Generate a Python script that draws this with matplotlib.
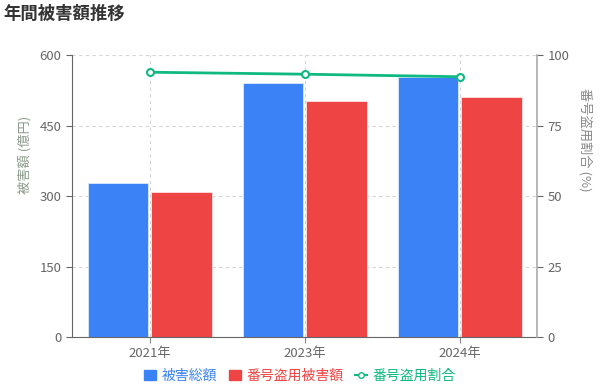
import numpy as np
import matplotlib.pyplot as plt
from matplotlib.lines import Line2D
from matplotlib.patches import Patch

plt.rcParams['font.family'] = ['Noto Sans CJK JP', 'DejaVu Sans']

years = ['2021年', '2023年', '2024年']
total_damage = [328, 540, 554]
theft_damage = [309, 503, 511]
theft_ratio = [93.9, 93.2, 92.3]

blue = '#3b82f6'
red = '#ef4444'
green = '#10b981'

fig = plt.figure(figsize=(6, 3.88), dpi=100)
ax = fig.add_axes([0.12, 0.1314, 0.775, 0.7268])
ax2 = ax.twinx()

x = np.arange(len(years))
w = 0.39
ax.bar(x - 0.205, total_damage, w, color=blue, edgecolor='#dbeafe', linewidth=0.6, zorder=2)
ax.bar(x + 0.205, theft_damage, w, color=red, edgecolor='#fde2e2', linewidth=0.6, zorder=2)

ax.set_xlim(-0.5, 2.5)
ax.set_ylim(0, 600)
ax.set_yticks([0, 150, 300, 450, 600])
ax.set_xticks(x)
ax.set_xticklabels(years)
ax.grid(True, linestyle=(0, (3, 3)), color='#d4d4d4', linewidth=0.8, zorder=0)
ax.set_axisbelow(True)

ax2.plot(x, theft_ratio, color=green, linewidth=2, marker='o', markersize=5,
         markerfacecolor='white', markeredgecolor=green, markeredgewidth=1.5, zorder=3)
ax2.set_ylim(0, 100)
ax2.set_yticks([0, 25, 50, 75, 100])

for a in (ax, ax2):
    a.spines['top'].set_visible(False)
    a.tick_params(labelsize=9.5, colors='#666666', length=4, width=0.8)
ax.spines['right'].set_visible(False)
ax.spines['left'].set_color('#666666')
ax.spines['bottom'].set_color('#666666')
ax2.spines['left'].set_visible(False)
ax2.spines['bottom'].set_visible(False)
ax2.spines['right'].set_color('#aaaaaa')
ax2.spines['right'].set_linewidth(1.2)
ax.tick_params(axis='x', colors='#888888', labelcolor='#666666')

ax.set_ylabel('被害額 (億円)', fontsize=9.5, color='#8a9a8a', va='center')
ax.yaxis.set_label_coords(-0.101, 0.645)
ax2.set_ylabel('番号盗用割合 (%)', fontsize=9.5, color='#888888', rotation=270, va='center')
ax2.yaxis.set_label_coords(1.103, 0.70)

fig.text(0.006, 0.965, '年間被害額推移', fontsize=12.5, fontweight='bold', color='#333333', va='center')

handles = [Patch(color=blue), Patch(color=red),
           Line2D([0], [0], color=green, marker='o', markersize=4, markerfacecolor='white', linewidth=1.5)]
labels = ['被害総額', '番号盗用被害額', '番号盗用割合']
leg = fig.legend(handles, labels, loc='center', bbox_to_anchor=(0.5, 0.032), ncol=3, frameon=False,
                 fontsize=10, handlelength=0.9, handleheight=0.7, handletextpad=0.4, columnspacing=0.8)
for t, c in zip(leg.get_texts(), [blue, red, green]):
    t.set_color(c)

fig.savefig('out.png', dpi=100)
